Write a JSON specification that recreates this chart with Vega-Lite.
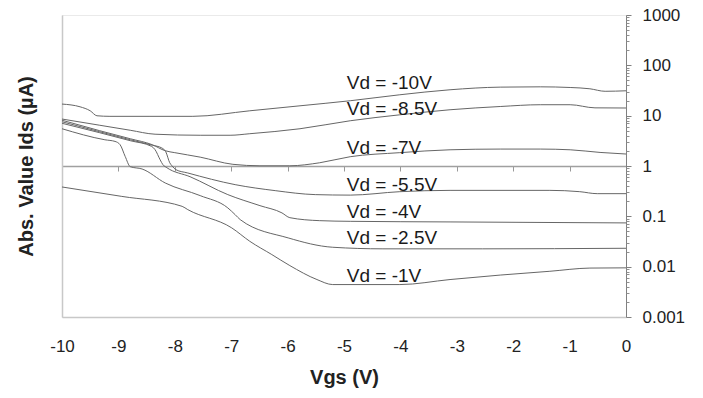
{
  "$schema": "https://vega.github.io/schema/vega-lite/v6.json",
  "width": 564,
  "height": 302,
  "autosize": "none",
  "padding": {"left": 62, "top": 15, "right": 77, "bottom": 81},
  "background": "white",
  "config": {
    "view": {"stroke": "#d4d4d4", "strokeDash": [1, 1]},
    "font": "Liberation Sans"
  },
  "datasets": {
    "curves": [
      {"vd": "-10", "vgs": -10, "ids": 17.0},
      {"vd": "-10", "vgs": -9.68, "ids": 15.0},
      {"vd": "-10", "vgs": -9.5, "ids": 12.5},
      {"vd": "-10", "vgs": -9.38, "ids": 9.95},
      {"vd": "-10", "vgs": -9.15, "ids": 9.7},
      {"vd": "-10", "vgs": -8.44, "ids": 9.7},
      {"vd": "-10", "vgs": -7.68, "ids": 9.7},
      {"vd": "-10", "vgs": -6.67, "ids": 12.5},
      {"vd": "-10", "vgs": -5.78, "ids": 15.7},
      {"vd": "-10", "vgs": -4.89, "ids": 19.8},
      {"vd": "-10", "vgs": -4.01, "ids": 26.0},
      {"vd": "-10", "vgs": -3.12, "ids": 32.7},
      {"vd": "-10", "vgs": -2.23, "ids": 36.9},
      {"vd": "-10", "vgs": -1.52, "ids": 37.4},
      {"vd": "-10", "vgs": -0.99, "ids": 36.3},
      {"vd": "-10", "vgs": -0.64, "ids": 34.2},
      {"vd": "-10", "vgs": -0.37, "ids": 30.5},
      {"vd": "-10", "vgs": 0, "ids": 31.2},

      {"vd": "-8.5", "vgs": -10, "ids": 8.57},
      {"vd": "-8.5", "vgs": -9.33, "ids": 6.45},
      {"vd": "-8.5", "vgs": -8.79, "ids": 5.13},
      {"vd": "-8.5", "vgs": -8.35, "ids": 4.28},
      {"vd": "-8.5", "vgs": -7.55, "ids": 4.08},
      {"vd": "-8.5", "vgs": -7.02, "ids": 4.08},
      {"vd": "-8.5", "vgs": -6.67, "ids": 4.38},
      {"vd": "-8.5", "vgs": -5.78, "ids": 5.5},
      {"vd": "-8.5", "vgs": -4.89, "ids": 7.92},
      {"vd": "-8.5", "vgs": -4.01, "ids": 10.4},
      {"vd": "-8.5", "vgs": -3.12, "ids": 13.1},
      {"vd": "-8.5", "vgs": -2.23, "ids": 15.2},
      {"vd": "-8.5", "vgs": -1.52, "ids": 16.5},
      {"vd": "-8.5", "vgs": -0.99, "ids": 16.5},
      {"vd": "-8.5", "vgs": -0.55, "ids": 14.3},
      {"vd": "-8.5", "vgs": 0, "ids": 14.2},

      {"vd": "-7", "vgs": -10, "ids": 8.11},
      {"vd": "-7", "vgs": -9.33, "ids": 5.02},
      {"vd": "-7", "vgs": -8.79, "ids": 3.48},
      {"vd": "-7", "vgs": -8.4, "ids": 2.65},
      {"vd": "-7", "vgs": -8.17, "ids": 2.01},
      {"vd": "-7", "vgs": -8.0, "ids": 1.84},
      {"vd": "-7", "vgs": -7.55, "ids": 1.5},
      {"vd": "-7", "vgs": -6.97, "ids": 1.08},
      {"vd": "-7", "vgs": -6.49, "ids": 1.01},
      {"vd": "-7", "vgs": -5.96, "ids": 1.01},
      {"vd": "-7", "vgs": -5.43, "ids": 1.16},
      {"vd": "-7", "vgs": -4.89, "ids": 1.53},
      {"vd": "-7", "vgs": -4.01, "ids": 1.84},
      {"vd": "-7", "vgs": -3.12, "ids": 2.1},
      {"vd": "-7", "vgs": -2.23, "ids": 2.17},
      {"vd": "-7", "vgs": -1.52, "ids": 2.17},
      {"vd": "-7", "vgs": -0.99, "ids": 2.1},
      {"vd": "-7", "vgs": -0.46, "ids": 1.86},
      {"vd": "-7", "vgs": 0, "ids": 1.73},

      {"vd": "-5.5", "vgs": -10, "ids": 7.57},
      {"vd": "-5.5", "vgs": -9.33, "ids": 4.79},
      {"vd": "-5.5", "vgs": -8.79, "ids": 3.32},
      {"vd": "-5.5", "vgs": -8.4, "ids": 2.59},
      {"vd": "-5.5", "vgs": -8.23, "ids": 2.28},
      {"vd": "-5.5", "vgs": -8.16, "ids": 1.92},
      {"vd": "-5.5", "vgs": -8.09, "ids": 1.16},
      {"vd": "-5.5", "vgs": -8.05, "ids": 1.01},
      {"vd": "-5.5", "vgs": -7.98, "ids": 0.845},
      {"vd": "-5.5", "vgs": -7.77, "ids": 0.727},
      {"vd": "-5.5", "vgs": -6.93, "ids": 0.426},
      {"vd": "-5.5", "vgs": -6.22, "ids": 0.324},
      {"vd": "-5.5", "vgs": -5.51, "ids": 0.27},
      {"vd": "-5.5", "vgs": -4.89, "ids": 0.264},
      {"vd": "-5.5", "vgs": -4.01, "ids": 0.309},
      {"vd": "-5.5", "vgs": -3.12, "ids": 0.328},
      {"vd": "-5.5", "vgs": -1.35, "ids": 0.328},
      {"vd": "-5.5", "vgs": -0.82, "ids": 0.309},
      {"vd": "-5.5", "vgs": -0.51, "ids": 0.282},
      {"vd": "-5.5", "vgs": 0, "ids": 0.282},

      {"vd": "-4", "vgs": -10, "ids": 7.06},
      {"vd": "-4", "vgs": -9.33, "ids": 4.58},
      {"vd": "-4", "vgs": -8.79, "ids": 3.18},
      {"vd": "-4", "vgs": -8.41, "ids": 2.45},
      {"vd": "-4", "vgs": -8.35, "ids": 2.11},
      {"vd": "-4", "vgs": -8.26, "ids": 1.33},
      {"vd": "-4", "vgs": -8.21, "ids": 1.06},
      {"vd": "-4", "vgs": -8.14, "ids": 0.925},
      {"vd": "-4", "vgs": -7.73, "ids": 0.613},
      {"vd": "-4", "vgs": -7.06, "ids": 0.27},
      {"vd": "-4", "vgs": -6.49, "ids": 0.163},
      {"vd": "-4", "vgs": -6.1, "ids": 0.117},
      {"vd": "-4", "vgs": -5.96, "ids": 0.094},
      {"vd": "-4", "vgs": -5.43, "ids": 0.082},
      {"vd": "-4", "vgs": -4.89, "ids": 0.0796},
      {"vd": "-4", "vgs": -3.12, "ids": 0.0774},
      {"vd": "-4", "vgs": 0, "ids": 0.074},

      {"vd": "-2.5", "vgs": -10, "ids": 5.5},
      {"vd": "-2.5", "vgs": -9.24, "ids": 3.32},
      {"vd": "-2.5", "vgs": -9.06, "ids": 3.08},
      {"vd": "-2.5", "vgs": -8.97, "ids": 2.65},
      {"vd": "-2.5", "vgs": -8.88, "ids": 1.55},
      {"vd": "-2.5", "vgs": -8.79, "ids": 0.969},
      {"vd": "-2.5", "vgs": -8.58, "ids": 0.872},
      {"vd": "-2.5", "vgs": -8.17, "ids": 0.46},
      {"vd": "-2.5", "vgs": -7.55, "ids": 0.258},
      {"vd": "-2.5", "vgs": -7.06, "ids": 0.147},
      {"vd": "-2.5", "vgs": -6.93, "ids": 0.108},
      {"vd": "-2.5", "vgs": -6.84, "ids": 0.086},
      {"vd": "-2.5", "vgs": -5.99, "ids": 0.0373},
      {"vd": "-2.5", "vgs": -5.2, "ids": 0.0243},
      {"vd": "-2.5", "vgs": -4.31, "ids": 0.0226},
      {"vd": "-2.5", "vgs": -2.54, "ids": 0.0226},
      {"vd": "-2.5", "vgs": 0, "ids": 0.0232},

      {"vd": "-1", "vgs": -10, "ids": 0.383},
      {"vd": "-1", "vgs": -8.94, "ids": 0.249},
      {"vd": "-1", "vgs": -7.87, "ids": 0.158},
      {"vd": "-1", "vgs": -7.77, "ids": 0.136},
      {"vd": "-1", "vgs": -6.99, "ids": 0.0589},
      {"vd": "-1", "vgs": -6.67, "ids": 0.0319},
      {"vd": "-1", "vgs": -6.28, "ids": 0.0174},
      {"vd": "-1", "vgs": -5.96, "ids": 0.0105},
      {"vd": "-1", "vgs": -5.48, "ids": 0.00555},
      {"vd": "-1", "vgs": -5.2, "ids": 0.00441},
      {"vd": "-1", "vgs": -4.01, "ids": 0.00441},
      {"vd": "-1", "vgs": -3.12, "ids": 0.00555},
      {"vd": "-1", "vgs": -2.23, "ids": 0.00681},
      {"vd": "-1", "vgs": -1.35, "ids": 0.0081},
      {"vd": "-1", "vgs": -0.64, "ids": 0.00938},
      {"vd": "-1", "vgs": 0, "ids": 0.00947}
    ],
    "labels": [
      {"label": "Vd = -10V", "vgs": -4.95, "ids": 44.3},
      {"label": "Vd = -8.5V", "vgs": -4.95, "ids": 13.5},
      {"label": "Vd = -7V", "vgs": -4.95, "ids": 2.28},
      {"label": "Vd = -5.5V", "vgs": -4.95, "ids": 0.426},
      {"label": "Vd = -4V", "vgs": -4.95, "ids": 0.12},
      {"label": "Vd = -2.5V", "vgs": -4.95, "ids": 0.0373},
      {"label": "Vd = -1V", "vgs": -4.95, "ids": 0.00645}
    ]
  },
  "layer": [
    {
      "data": {"name": "curves"},
      "mark": {"type": "line", "color": "#666666", "strokeWidth": 1, "interpolate": "monotone"},
      "encoding": {
        "x": {
          "field": "vgs", "type": "quantitative",
          "scale": {"domain": [-10, 0], "nice": false, "zero": false},
          "axis": {
            "orient": "bottom",
            "values": [-10, -9, -8, -7, -6, -5, -4, -3, -2, -1, 0],
            "labelExpr": "toString(datum.value)", "labelFlush": false,
            "labelFont": "Liberation Sans", "labelFontSize": 17, "labelColor": "#222222",
            "labelPadding": 21, "ticks": false, "grid": false,
            "domainColor": "#c8c8c8", "domainWidth": 1.5,
            "title": "Vgs (V)", "titleFont": "Liberation Sans", "titleFontSize": 20,
            "titleFontWeight": "bold", "titleColor": "#222222", "titlePadding": 13
          }
        },
        "y": {
          "field": "ids", "type": "quantitative",
          "scale": {"type": "log", "domain": [0.001, 1000], "nice": false},
          "axis": {
            "orient": "right",
            "values": [0.001, 0.01, 0.1, 1, 10, 100, 1000],
            "labelExpr": "toString(datum.value)", "labelFlush": false,
            "labelFont": "Liberation Sans", "labelFontSize": 17, "labelColor": "#222222",
            "labelPadding": 11, "tickSize": 5, "tickColor": "#808080",
            "domainColor": "#808080", "grid": false, "title": null
          }
        },
        "detail": {"field": "vd", "type": "nominal"}
      }
    },
    {
      "data": {"name": "labels"},
      "mark": {"type": "text", "align": "left", "baseline": "middle", "font": "Liberation Sans", "fontSize": 19, "color": "#1a1a1a"},
      "encoding": {
        "x": {
          "field": "vgs", "type": "quantitative",
          "axis": {
            "orient": "bottom", "offset": -151,
            "values": [-10, -9, -8, -7, -6, -5, -4, -3, -2, -1, 0],
            "labels": false, "tickSize": 5, "tickColor": "#999999",
            "domainColor": "#a0a0a0", "domainWidth": 1.5, "grid": false, "title": null
          }
        },
        "y": {
          "field": "ids", "type": "quantitative",
          "axis": {
            "orient": "right",
            "values": [0.002, 0.003, 0.004, 0.005, 0.006, 0.007, 0.008, 0.009,
                       0.02, 0.03, 0.04, 0.05, 0.06, 0.07, 0.08, 0.09,
                       0.2, 0.3, 0.4, 0.5, 0.6, 0.7, 0.8, 0.9,
                       2, 3, 4, 5, 6, 7, 8, 9,
                       20, 30, 40, 50, 60, 70, 80, 90,
                       200, 300, 400, 500, 600, 700, 800, 900],
            "labels": false, "tickSize": 3, "tickColor": "#909090",
            "domain": false, "grid": false, "title": null
          }
        },
        "text": {"field": "label", "type": "nominal"}
      }
    },
    {
      "data": {"name": "labels"},
      "mark": {"type": "point", "opacity": 0},
      "encoding": {
        "x": {"field": "vgs", "type": "quantitative", "axis": null},
        "y": {
          "field": "ids", "type": "quantitative",
          "axis": {
            "orient": "left", "labels": false, "ticks": false, "grid": false,
            "domainColor": "#c8c8c8", "domainWidth": 1.5,
            "title": "Abs. Value Ids (µA)", "titleFont": "Liberation Sans", "titleFontSize": 20,
            "titleFontWeight": "bold", "titleColor": "#222222", "titlePadding": 26
          }
        }
      }
    }
  ],
  "resolve": {"axis": {"x": "independent", "y": "independent"}}
}
